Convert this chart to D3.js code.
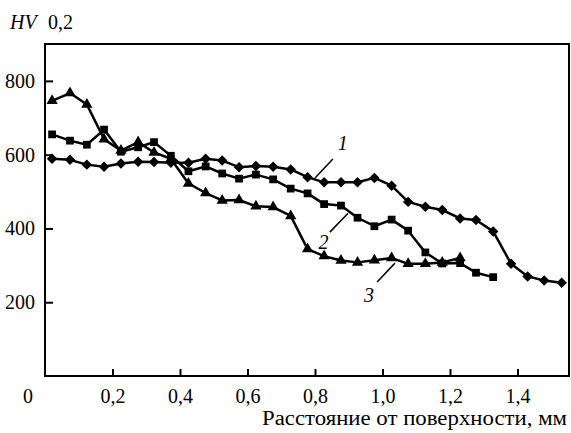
<!DOCTYPE html>
<html>
<head>
<meta charset="utf-8">
<script src="https://cdn.jsdelivr.net/npm/d3@7/dist/d3.min.js"></script>
<style>
  html, body { margin: 0; padding: 0; background: #fff; }
  svg { display: block; }
  svg text { font-family: "Liberation Serif", "Times New Roman", Times, Tinos, "DejaVu Serif", "Noto Serif", serif !important; fill: #000; }
</style>
</head>
<body>
<svg id="chart" width="571" height="433"></svg>
<script>
// ---- data ----
const distance = [0.021,0.074,0.124,0.175,0.225,0.276,0.323,0.373,0.425,0.476,0.525,0.575,0.625,0.676,0.728,0.778,0.827,0.877,0.926,0.976,1.027,1.076,1.127,1.177,1.230,1.277,1.328,1.381,1.430,1.479,1.531];
const curve1 = [589,586,573,567,576,581,580,578,578,589,584,566,569,567,560,539,525,525,525,537,516,472,459,450,427,423,392,304,270,259,253];
const curve2 = [655,638,627,668,608,620,634,597,555,568,549,535,546,533,508,495,466,462,429,406,424,394,335,305,306,280,268];
const curve3 = [746,767,736,642,611,634,606,589,522,496,476,477,460,458,434,344,325,313,308,314,320,304,304,308,320];
const xTicks = [0.2,0.4,0.6,0.8,1.0,1.2,1.4];
const yTicks = [200,400,600,800];
const originLabel = "0";
const yTitle = ["HV", "0,2"];
const xTitle = "Расстояние от поверхности, мм";
const curveLabels = [
  {text:"1", pos:[0.882,631], lead:[[0.853,588],[0.800,537]]},
  {text:"2", pos:[0.825,364], lead:[[0.844,390],[0.898,441]]},
  {text:"3", pos:[0.960,220], lead:[[0.984,255],[1.037,306]]}
];

// ---- chart ----
const FONT = '"Liberation Serif", "Times New Roman", Times, Tinos, "DejaVu Serif", serif';
const svg = d3.select("#chart");
const x = d3.scaleLinear().domain([0, 1.5526]).range([45, 569]);
const y = d3.scaleLinear().domain([0, 900]).range([376, 44]);
const fmt = d => d3.format(".1f")(d).replace(".", ",");

// frame
svg.append("rect").attr("x", x(0)).attr("y", y(900))
  .attr("width", x(1.5526) - x(0)).attr("height", y(0) - y(900))
  .attr("fill", "none").attr("stroke", "#000").attr("stroke-width", 2);

// axes
const gx = svg.append("g").attr("transform", `translate(0,${y(0)})`)
  .call(d3.axisBottom(x).tickValues(xTicks).tickSizeInner(-7).tickSizeOuter(0).tickPadding(13).tickFormat(fmt));
const gy = svg.append("g").attr("transform", `translate(${x(0)},0)`)
  .call(d3.axisLeft(y).tickValues(yTicks).tickSizeInner(-8).tickSizeOuter(0).tickPadding(10));
[gx, gy].forEach(g => {
  g.attr("font-family", FONT);
  g.select(".domain").remove();
  g.selectAll(".tick line").attr("stroke", "#000").attr("stroke-width", 2);
  g.selectAll(".tick text").attr("font-size", 20);
});

svg.append("text").attr("x", x(0) - 17).attr("y", y(0) + 27)
  .attr("text-anchor", "middle").attr("font-size", 20).text(originLabel);

// titles
svg.append("text").attr("x", 10).attr("y", 29).attr("font-size", 20)
  .attr("font-style", "italic").text(yTitle[0]);
svg.append("text").attr("x", 48).attr("y", 29).attr("font-size", 20).text(yTitle[1]);
svg.append("text").attr("x", 262).attr("y", 425)
  .attr("font-size", 20).attr("textLength", 305).attr("lengthAdjust", "spacingAndGlyphs").text(xTitle);

// lines
const line = d3.line().x(d => x(d[0])).y(d => y(d[1]));
const series = [
  {vals: curve1, sym: d3.symbolDiamond2, size: 70},
  {vals: curve2, sym: d3.symbolSquare, size: 60},
  {vals: curve3, sym: d3.symbolTriangle, size: 55}
];
series.forEach(s => {
  const pts = s.vals.map((v, i) => [distance[i], v]);
  svg.append("path").datum(pts).attr("d", line)
    .attr("fill", "none").attr("stroke", "#000").attr("stroke-width", 2.5).attr("stroke-linejoin", "round");
  svg.append("g").selectAll("path").data(pts).join("path")
    .attr("transform", d => `translate(${x(d[0])},${y(d[1])})`)
    .attr("d", d3.symbol().type(s.sym).size(s.size))
    .attr("fill", "#000");
});

// curve labels
curveLabels.forEach(c => {
  svg.append("line")
    .attr("x1", x(c.lead[0][0])).attr("y1", y(c.lead[0][1]))
    .attr("x2", x(c.lead[1][0])).attr("y2", y(c.lead[1][1]))
    .attr("stroke", "#000").attr("stroke-width", 1.5);
  svg.append("text").attr("x", x(c.pos[0])).attr("y", y(c.pos[1]))
    .attr("text-anchor", "middle").attr("dominant-baseline", "central")
    .attr("font-style", "italic").attr("font-size", 20).text(c.text);
});
</script>
</body>
</html>
